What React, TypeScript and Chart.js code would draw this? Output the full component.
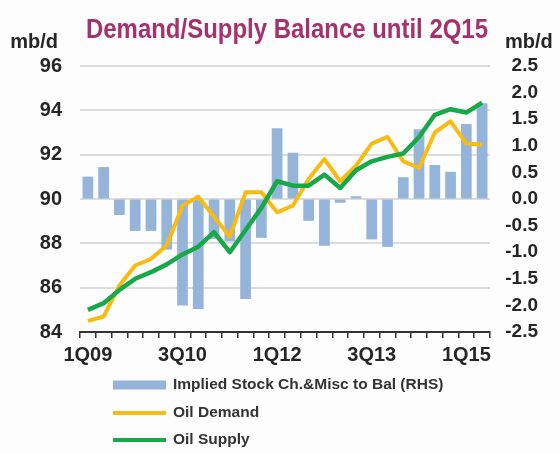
import React, { useEffect, useRef } from 'react';
import { Chart, registerables } from 'chart.js';

Chart.register(...registerables);

const quarters = [
  '1Q09', '2Q09', '3Q09', '4Q09', '1Q10', '2Q10', '3Q10', '4Q10', '1Q11', '2Q11', '3Q11', '4Q11', '1Q12',
  '2Q12', '3Q12', '4Q12', '1Q13', '2Q13', '3Q13', '4Q13', '1Q14', '2Q14', '3Q14', '4Q14', '1Q15', '2Q15',
];
const shownTickLabels = ['1Q09', '3Q10', '1Q12', '3Q13', '1Q15'];

const stockChange = [
  0.42, 0.6, -0.3, -0.6, -0.6, -0.95, -2.0, -2.07, -0.75, -0.8, -1.88, -0.73, 1.33,
  0.87, -0.41, -0.88, -0.07, 0.05, -0.76, -0.9, 0.41, 1.31, 0.64, 0.51, 1.41, 1.8,
];
const oilDemand = [
  84.5, 84.7, 86.1, 87.0, 87.3, 87.9, 89.7, 90.1, 89.2, 88.3, 90.3, 90.3, 89.4,
  89.7, 90.9, 91.8, 90.8, 91.5, 92.5, 92.8, 91.7, 91.4, 93.0, 93.5, 92.5, 92.45,
];
const oilSupply = [
  85.0, 85.3, 85.9, 86.4, 86.7, 87.05, 87.5, 87.85, 88.5, 87.6, 88.6, 89.6, 90.8,
  90.6, 90.6, 91.1, 90.5, 91.3, 91.7, 91.9, 92.05, 92.8, 93.8, 94.05, 93.9, 94.35,
];

const leftAxisRange = [84, 96];
const leftAxisStep = 2;
const rightAxisRange = [-2.5, 2.5];
const rightAxisStep = 0.5;

const titleText = 'Demand/Supply Balance until 2Q15';
const unitLabel = 'mb/d';
const seriesLabels = ['Implied Stock Ch.&Misc to Bal (RHS)', 'Oil Demand', 'Oil Supply'];

const BAR_COLOR = '#95b4da';
const DEMAND_COLOR = '#f8bb12';
const SUPPLY_COLOR = '#17a84a';
const TITLE_COLOR = '#a3326f';
const TEXT_COLOR = '#262626';
const GRID_COLOR = '#dcdcdc';
const FONT = '"Liberation Sans", Arial, Helvetica, sans-serif';

const decorPlugin = {
  id: 'decor',
  afterDraw(chart: any) {
    const ctx = chart.ctx as CanvasRenderingContext2D;
    const area = chart.chartArea;
    // Title (narrow bold)
    ctx.save();
    ctx.font = `bold 28px "Liberation Sans Narrow", "Arial Narrow", ${FONT}`;
    const w = ctx.measureText(titleText).width;
    const targetW = 402;
    ctx.fillStyle = TITLE_COLOR;
    ctx.textAlign = 'center';
    ctx.textBaseline = 'alphabetic';
    ctx.translate((area.left + area.right) / 2 + 2, area.top - 28);
    ctx.scale(targetW / w, 1);
    ctx.fillText(titleText, 0, 0);
    ctx.restore();

    // Unit labels
    ctx.save();
    ctx.font = `bold 20px ${FONT}`;
    ctx.fillStyle = TEXT_COLOR;
    ctx.textBaseline = 'alphabetic';
    ctx.textAlign = 'right';
    ctx.fillText(unitLabel, area.left - 22, area.top - 18);
    ctx.textAlign = 'left';
    ctx.fillText(unitLabel, area.right + 15, area.top - 18);
    ctx.restore();

    // Legend (vertical list)
    ctx.save();
    const ds = chart.data.datasets;
    const rowsY = [area.bottom + 53, area.bottom + 81, area.bottom + 108];
    const swX0 = area.left + 33;
    const swX1 = area.left + 86;
    ctx.font = `bold 15.5px ${FONT}`;
    ctx.textBaseline = 'middle';
    ctx.textAlign = 'left';
    ds.forEach((d: any, i: number) => {
      const y = rowsY[i];
      if (d.type === 'bar') {
        ctx.fillStyle = d.backgroundColor;
        ctx.fillRect(swX0, y - 4.5, swX1 - swX0, 9);
      } else {
        ctx.strokeStyle = d.borderColor;
        ctx.lineWidth = 4;
        ctx.beginPath();
        ctx.moveTo(swX0, y);
        ctx.lineTo(swX1, y);
        ctx.stroke();
      }
      ctx.fillStyle = '#333333';
      ctx.fillText(d.label, swX1 + 7, y);
    });
    ctx.restore();
  },
};

export default function App() {
  const canvasRef = useRef<HTMLCanvasElement | null>(null);

  useEffect(() => {
    if (!canvasRef.current) return;
    const tickFont = { family: FONT, size: 20, weight: 'bold' as const };
    const rightFont = { family: FONT, size: 19, weight: 'bold' as const };
    const chart = new Chart(canvasRef.current, {
      type: 'bar',
      data: {
        labels: quarters,
        datasets: [
          {
            type: 'bar',
            label: seriesLabels[0],
            data: stockChange,
            yAxisID: 'y1',
            backgroundColor: BAR_COLOR,
            barPercentage: 0.68,
            categoryPercentage: 1,
            order: 3,
          } as any,
          {
            type: 'line',
            label: seriesLabels[1],
            data: oilDemand,
            yAxisID: 'y',
            borderColor: DEMAND_COLOR,
            backgroundColor: DEMAND_COLOR,
            borderWidth: 4,
            pointRadius: 0,
            tension: 0,
            borderJoinStyle: 'round',
            order: 2,
          } as any,
          {
            type: 'line',
            label: seriesLabels[2],
            data: oilSupply,
            yAxisID: 'y',
            borderColor: SUPPLY_COLOR,
            backgroundColor: SUPPLY_COLOR,
            borderWidth: 4.5,
            pointRadius: 0,
            tension: 0,
            borderJoinStyle: 'round',
            order: 1,
          } as any,
        ],
      },
      options: {
        responsive: false,
        animation: false,
        layout: { padding: { top: 66, bottom: 81, left: 0, right: 22 } },
        plugins: {
          legend: { display: false },
          tooltip: { enabled: false },
          title: { display: false },
        },
        scales: {
          x: {
            offset: true,
            grid: {
              display: true,
              drawOnChartArea: false,
              drawTicks: true,
              tickLength: 6,
              color: '#333333',
              lineWidth: 1.5,
              offset: true,
            },
            border: { display: true, color: '#333333', width: 2 },
            ticks: {
              autoSkip: false,
              maxRotation: 0,
              minRotation: 0,
              padding: 5,
              color: TEXT_COLOR,
              font: tickFont,
              callback: (_v: any, i: number) => (shownTickLabels.includes(quarters[i]) ? quarters[i] : ''),
            },
            afterFit: (s: any) => {
              s.height = 40;
            },
          },
          y: {
            position: 'left',
            min: leftAxisRange[0],
            max: leftAxisRange[1],
            ticks: { stepSize: leftAxisStep, autoSkip: false, padding: 18, color: TEXT_COLOR, font: tickFont },
            grid: { color: GRID_COLOR, lineWidth: 2, drawTicks: false },
            border: { display: false },
            afterFit: (s: any) => {
              s.width = 80;
            },
          },
          y1: {
            position: 'right',
            min: rightAxisRange[0],
            max: rightAxisRange[1],
            ticks: {
              stepSize: rightAxisStep,
              autoSkip: false,
              padding: 15,
              crossAlign: 'far',
              color: TEXT_COLOR,
              font: rightFont,
              callback: (v: any) => Number(v).toFixed(1),
            },
            grid: { drawOnChartArea: false, drawTicks: false },
            border: { display: false },
            afterFit: (s: any) => {
              s.width = 48;
            },
          },
        },
      } as any,
      plugins: [decorPlugin],
    });
    return () => chart.destroy();
  }, []);

  return (
    <div style={{ position: 'absolute', left: 0, top: 0, width: 560, height: 453, background: '#fdfdfd' }}>
      <canvas ref={canvasRef} width={560} height={453} />
    </div>
  );
}
